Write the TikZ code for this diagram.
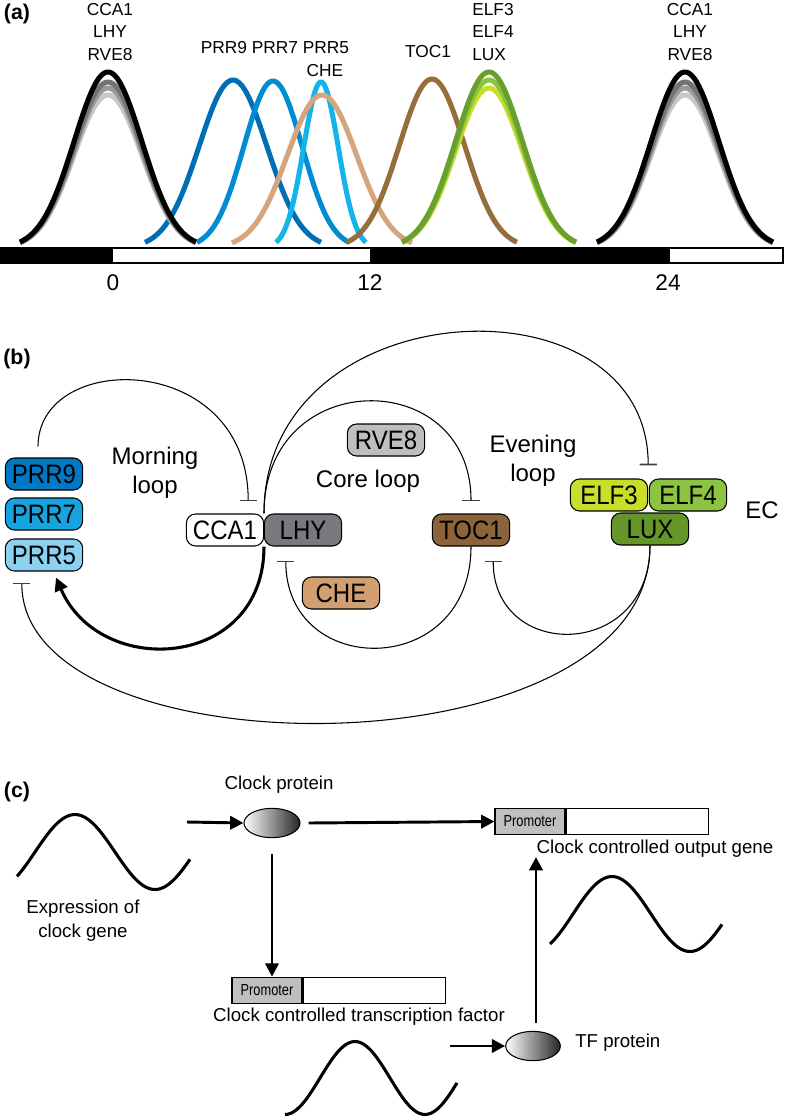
\documentclass[tikz,border=0pt]{standalone}
\usepackage{fontspec}
\setmainfont{Liberation Sans}
\newfontfamily\narrowf[FakeStretch=0.9]{Liberation Sans}
\newfontfamily\promof[FakeStretch=0.8]{Liberation Sans}
\usetikzlibrary{arrows.meta,shapes.geometric,calc}
\definecolor{prrnine}{RGB}{0,110,180}
\definecolor{prrseven}{RGB}{0,140,210}
\definecolor{prrfive}{RGB}{20,180,235}
\definecolor{chec}{RGB}{215,165,125}
\definecolor{tocc}{RGB}{150,110,60}
\definecolor{elfd}{RGB}{105,160,45}
\definecolor{elfm}{RGB}{140,195,65}
\definecolor{elfl}{RGB}{200,222,40}
\definecolor{boxnine}{RGB}{0,120,195}
\definecolor{boxseven}{RGB}{20,165,225}
\definecolor{boxfive}{RGB}{140,210,240}
\definecolor{lhyc}{RGB}{120,120,125}
\definecolor{rvec}{RGB}{190,190,192}
\definecolor{cheb}{RGB}{210,160,112}
\definecolor{tocb}{RGB}{140,100,60}
\definecolor{luxc}{RGB}{100,150,40}
\newcommand\bellcurve[5]{\draw[line width=#5,color=#1] plot[domain=-2.6:2.6,samples=70,smooth] ({#2+#3*\x/2.6},{248-#4*exp(-0.5*\x*\x)});}
\tikzset{
 gbox/.style={draw=black,line width=0.8pt,rounded corners=7pt,minimum width=58pt,minimum height=24pt,inner sep=0pt,font=\narrowf\fontsize{20}{22}\selectfont},
 thin/.style={line width=0.8pt},
 tee/.style={thin,-{Bar[width=13pt,line width=1.3pt,color=black!75]}},
 thick arrow/.style={line width=2.3pt,-{Triangle[length=10pt,width=10pt]}},
 carrow/.style={line width=2.2pt,-{Triangle[length=10pt,width=10pt]}},
 wave/.style={line width=2.3pt},
 lab/.style={font=\fontsize{13}{17}\selectfont,align=center,inner sep=0pt},
 panel/.style={font=\bfseries\fontsize{16}{18}\selectfont,inner sep=0pt},
 promo/.style={draw=black,line width=0.8pt,fill=black!25,minimum width=52.5pt,minimum height=20pt,inner sep=0pt,font=\promof\fontsize{12}{12}\selectfont},
 gene/.style={draw=black,line width=0.8pt,fill=white,minimum width=107pt,minimum height=20pt,inner sep=0pt},
 prot/.style={ellipse,draw=black,line width=0.8pt,left color=white,right color=black!85,minimum width=42pt,minimum height=22pt,inner sep=0pt},
 ctext/.style={font=\fontsize{14}{18}\selectfont,inner sep=0pt,align=center}
}
\begin{document}
\begin{tikzpicture}[x=0.75pt,y=-0.75pt]
\useasboundingbox[fill=white] (0,0) rectangle (785,1118);
% ---------- panel a ----------
\node[panel] (pa) at (17,14) {(a)};
\bellcurve{prrnine}{233}{88}{168}{3.8pt}
\bellcurve{prrseven}{273}{76}{167}{3.8pt}
\bellcurve{prrfive}{321}{45}{166}{3.8pt}
\bellcurve{chec}{322}{90}{153}{3.8pt}
\bellcurve{tocc}{432}{85}{169}{3.8pt}
\bellcurve{elfl}{489}{87}{160}{3.8pt}
\bellcurve{elfm}{489}{87}{168}{3.8pt}
\bellcurve{elfd}{489}{87}{176}{3.8pt}
\foreach \cx in {108,685}{
 \bellcurve{black!22}{\cx}{88}{153}{3.8pt}
 \bellcurve{black!40}{\cx}{88}{160}{3.8pt}
 \bellcurve{black!55}{\cx}{88}{166}{3.8pt}
 \bellcurve{black}{\cx}{88}{176}{3.8pt}
}
\fill[black] (0,248) rectangle (113,263);
\fill[black] (370,248) rectangle (670,263);
\draw[line width=0.8pt] (0,248) rectangle (783,263);
\node[lab] (la1) at (110,32) {CCA1\\LHY\\RVE8};
\node[lab] (la2) at (690,32) {CCA1\\LHY\\RVE8};
\node[lab,align=left] (la3) at (493,32) {ELF3\\ELF4\\LUX};
\node[lab] (la4) at (275,48) {PRR9 PRR7 PRR5};
\node[lab] (la5) at (325,71) {CHE};
\node[lab] (la6) at (428,52) {TOC1};
\node[font=\fontsize{17}{17}\selectfont] (t0) at (113,283) {0};
\node[font=\fontsize{17}{17}\selectfont] (t12) at (370,283) {12};
\node[font=\fontsize{17}{17}\selectfont] (t24) at (668,283) {24};
% ---------- panel b ----------
\node[panel] (pb) at (17,359) {(b)};
\node[gbox,fill=boxnine] (prr9) at (44,474) {PRR9};
\node[gbox,fill=boxseven] (prr7) at (44,514) {PRR7};
\node[gbox,fill=boxfive] (prr5) at (44,555) {PRR5};
\node[gbox,fill=white] (cca1) at (225,530) {CCA1};
\node[gbox,fill=lhyc] (lhy) at (303,530) {LHY};
\node[gbox,fill=tocb] (toc1) at (471,530) {TOC1};
\node[gbox,fill=rvec] (rve8) at (386,440) {RVE8};
\node[gbox,fill=cheb] (che) at (341,593) {CHE};
\node[gbox,fill=elfl] (elf3) at (609,495) {ELF3};
\node[gbox,fill=elfm] (elf4) at (688,495) {ELF4};
\node[gbox,fill=luxc] (lux) at (650,529) {LUX};
\node[font=\fontsize{18}{22}\selectfont,align=center,inner sep=0pt] (ml) at (155,473) {Morning\\loop};
\node[font=\fontsize{18}{22}\selectfont,inner sep=0pt] (cl) at (368,481) {Core loop};
\node[font=\fontsize{18}{22}\selectfont,align=center,inner sep=0pt] (el) at (533,461) {Evening\\loop};
\node[font=\fontsize{18}{22}\selectfont,inner sep=0pt] (ec) at (762,510) {EC};
\coordinate (jt) at ($(cca1.north east)!0.5!(lhy.north west)$);
\coordinate (jb) at ($(cca1.south east)!0.5!(lhy.south west)$);
\draw[tee] ($(prr9.north)+(-6,-11)$) .. controls ($(prr9.north)+(-6,-108)$) and ($(cca1.north east)+(-16,-163)$) .. ($(cca1.north east)+(-16,-12)$);
\draw[tee] (jt) .. controls ($(jt)+(0,-148)$) and ($(toc1.north)+(0,-148)$) .. ($(toc1.north)+(0,-12)$);
\draw[tee] (jt) .. controls ($(jt)+(0,-225)$) and ($(lux.north)+(-2,-241)$) .. ($(elf3.north east)+(0,-13)$);
\draw[thick arrow] (jb) .. controls ($(jb)+(0,123)$) and ($(prr5.south)+(56,108)$) .. ($(prr5.south)+(12,6)$);
\draw[tee] (toc1.south) .. controls ($(toc1.south)+(0,133)$) and ($(lhy.south west)+(22,133)$) .. ($(lhy.south west)+(22,14)$);
\draw[tee] (lux.south) .. controls ($(lux.south)+(0,115)$) and ($(toc1.south east)+(-17,115)$) .. ($(toc1.south east)+(-17,14)$);
\draw[tee] (lux.south) .. controls ($(lux.south)+(0,231)$) and ($(prr5.south west)+(17,204)$) .. ($(prr5.south west)+(17,11)$);
% ---------- panel c ----------
\node[panel] (pc) at (17,792) {(c)};
\draw[wave] plot[domain=17:190,samples=60,smooth] (\x,{852-37.5*cos(2.25*(\x-75))});
\node[ctext] (exl) at (83,921) {Expression of\\clock gene};
\node[prot] (cp) at (272,823) {};
\node[ctext] (cpl) at (279,785) {Clock protein};
\coordinate (a1s) at (187,822);
\draw[carrow] (a1s) -- (cp.west);
\node[promo] (p1) at (530,821.5) {Promoter};
\node[gene,anchor=west] (g1) at (p1.east) {};
\draw[carrow] ([xshift=6pt]cp.east) -- (p1.west);
\node[ctext] (outl) at (655,849) {Clock controlled output gene};
\node[promo] (p2) at (267,990.5) {Promoter};
\node[gene,anchor=west] (g2) at (p2.east) {};
\node[ctext] (tfl) at (359,1017) {Clock controlled transcription factor};
\draw[carrow] ([yshift=-12pt]cp.south) -- (cp.south |- p2.north);
\draw[wave] plot[domain=285:457,samples=60,smooth] (\x,{1078-36.5*cos(2.5714*(\x-355))});
\node[prot,minimum width=41pt] (tf) at (533,1046) {};
\node[ctext,anchor=west] (tfp) at (575,1043) {TF protein};
\coordinate (a2s) at (450,1046);
\draw[carrow] (a2s) -- (tf.west);
\coordinate (upend) at (536,857);
\draw[carrow] ([yshift=6pt]tf.north -| upend) -- (upend);
\draw[wave] plot[domain=550:722,samples=60,smooth] (\x,{914-37.5*cos(2.3077*(\x-612))});
\end{tikzpicture}
\end{document}
